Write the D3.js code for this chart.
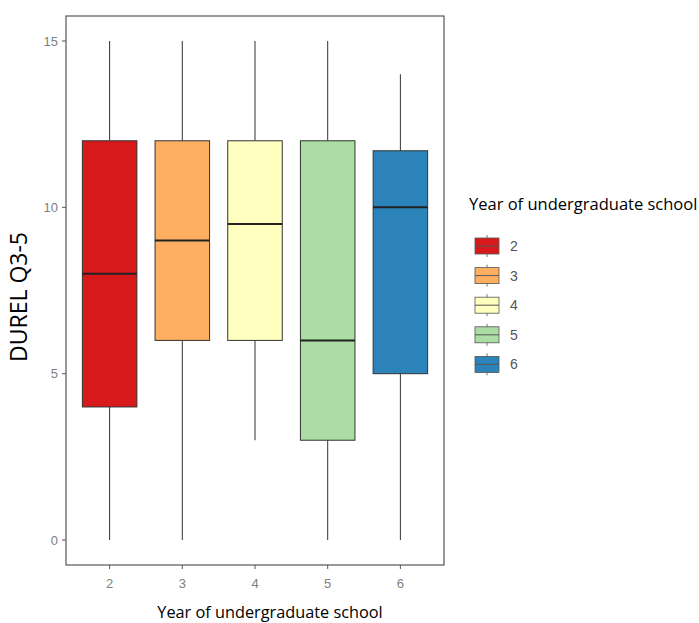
<!DOCTYPE html>
<html><head><meta charset="utf-8">
<script src="https://cdn.jsdelivr.net/npm/d3@7"></script>
<style>body{margin:0;background:#fff}</style>
</head><body>
<script>
const categories = ["2","3","4","5","6"];
const whiskerLow = [0, 0, 3, 0, 0];
const q1 = [4, 6, 6, 3, 5];
const median = [8, 9, 9.5, 6, 10];
const q3 = [12, 12, 12, 12, 11.7];
const whiskerHigh = [15, 15, 15, 15, 14];
const colors = ["#d7191c", "#fdae61", "#ffffbf", "#abdda4", "#2b83ba"];
const yTicks = [0, 5, 10, 15];

const W = 699, H = 623;
const L = 66, R = 444, T = 16, B = 565;
const svg = d3.select("body").append("svg").attr("width", W).attr("height", H);

// ggplot-like discrete scale: 0.6 units expansion each side
const x = d3.scalePoint().domain(categories).range([L, R]).padding(0.6);
const step = x.step();
const xc = c => x(c);
const y = d3.scaleLinear().domain([-0.75, 15.75]).range([B, T]);

const data = categories.map((c, i) => ({c, lo: whiskerLow[i], q1: q1[i], med: median[i], q3: q3[i], hi: whiskerHigh[i], col: colors[i]}));
const bw = step * 0.75;

const g = svg.append("g");
g.selectAll("line.wl").data(data).enter().append("line")
  .attr("x1", d => xc(d.c)).attr("x2", d => xc(d.c))
  .attr("y1", d => y(d.hi)).attr("y2", d => y(d.q3))
  .attr("stroke", "#333").attr("stroke-width", 1);
g.selectAll("line.wh").data(data).enter().append("line")
  .attr("x1", d => xc(d.c)).attr("x2", d => xc(d.c))
  .attr("y1", d => y(d.q1)).attr("y2", d => y(d.lo))
  .attr("stroke", "#333").attr("stroke-width", 1);
g.selectAll("rect.box").data(data).enter().append("rect")
  .attr("x", d => xc(d.c) - bw / 2).attr("width", bw)
  .attr("y", d => y(d.q3)).attr("height", d => y(d.q1) - y(d.q3))
  .attr("fill", d => d.col).attr("stroke", "#333").attr("stroke-width", 1);
g.selectAll("line.med").data(data).enter().append("line")
  .attr("x1", d => xc(d.c) - bw / 2).attr("x2", d => xc(d.c) + bw / 2)
  .attr("y1", d => y(d.med)).attr("y2", d => y(d.med))
  .attr("stroke", "#222").attr("stroke-width", 2);

svg.append("rect").attr("x", L).attr("y", T).attr("width", R - L).attr("height", B - T)
  .attr("fill", "none").attr("stroke", "#555").attr("stroke-width", 1.2);

const ya = svg.append("g");
yTicks.forEach(t => {
  ya.append("line").attr("x1", L - 4).attr("x2", L).attr("y1", y(t)).attr("y2", y(t)).attr("stroke", "#555");
  ya.append("text").attr("x", L - 8).attr("y", y(t)).attr("dy", "0.35em").attr("text-anchor", "end")
    .attr("font-family", "Liberation Sans, Arial, sans-serif").attr("font-size", 13).attr("fill", "#808080").text(t);
});
categories.forEach(c => {
  svg.append("line").attr("x1", xc(c)).attr("x2", xc(c)).attr("y1", B).attr("y2", B + 4).attr("stroke", "#555");
  svg.append("text").attr("x", xc(c)).attr("y", B + 23).attr("text-anchor", "middle")
    .attr("font-family", "Liberation Sans, Arial, sans-serif").attr("font-size", 13).attr("fill", "#808080").text(c);
});

svg.append("text").attr("x", 270).attr("y", 618).attr("text-anchor", "middle")
  .attr("font-family", "Open Sans, sans-serif").attr("font-size", 16.3).attr("fill", "#000")
  .text("Year of undergraduate school");
svg.append("text").attr("transform", "translate(27,297) rotate(-90)").attr("text-anchor", "middle")
  .attr("font-family", "Open Sans, sans-serif").attr("font-size", 23).attr("fill", "#000")
  .text("DUREL Q3-5");

svg.append("text").attr("x", 469).attr("y", 210)
  .attr("font-family", "Open Sans, sans-serif").attr("font-size", 16.5).attr("fill", "#000")
  .text("Year of undergraduate school");
const lg = svg.append("g");
data.forEach((d, i) => {
  const cy = 246 + i * 29.6;
  lg.append("line").attr("x1", 487).attr("x2", 487).attr("y1", cy - 11).attr("y2", cy + 11).attr("stroke", "#555").attr("stroke-width", 0.8);
  lg.append("rect").attr("x", 475).attr("y", cy - 8).attr("width", 24).attr("height", 16)
    .attr("fill", d.col).attr("stroke", "#555").attr("stroke-width", 0.8);
  lg.append("line").attr("x1", 475).attr("x2", 499).attr("y1", cy).attr("y2", cy).attr("stroke", "#555").attr("stroke-width", 1);
  lg.append("text").attr("x", 510).attr("y", cy).attr("dy", "0.35em")
    .attr("font-family", "Liberation Sans, Arial, sans-serif").attr("font-size", 14).attr("fill", "#555").text(d.c);
});
</script>
</body></html>
